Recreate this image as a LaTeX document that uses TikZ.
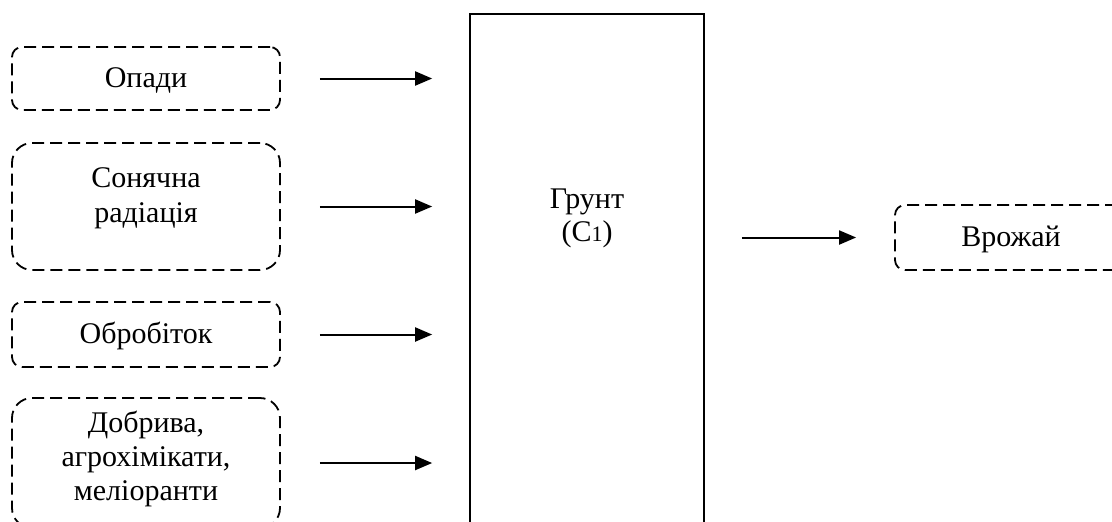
\documentclass[tikz,border=0pt]{standalone}
\usepackage{fontspec}
\setmainfont{Liberation Serif}
\usetikzlibrary{arrows.meta}
\begin{document}
\begin{tikzpicture}[x=0.5pt,y=-0.5pt,
  every node/.style={font=\fontsize{15}{17}\selectfont},
  softbox/.style={draw, line width=0.9pt, dash pattern=on 6pt off 3pt, minimum width=134pt, inner sep=0pt, align=center},
  single/.style={text height=10pt, text depth=1pt},
  txt/.style={inner sep=0pt, align=center},
  solidbox/.style={draw, line width=0.85pt, inner sep=0pt},
  flow/.style={-{Triangle[length=8.5pt,width=7pt]}, line width=1pt, shorten <=19.5pt, shorten >=18.5pt},
]
\useasboundingbox (0,0) rectangle (1112,521);
\clip (0,0) rectangle (1112,521);

\node[softbox, single, minimum height=31.5pt, rounded corners=5pt] (opady) at (146,78.5) {Опади};
\node[softbox, minimum height=63.5pt, rounded corners=10pt] (sun) at (146,206.5) {};
\node[txt, font=\fontsize{15}{17.5}\selectfont] (suntext) at (146,198) {Сонячна\\радіація};
\node[softbox, single, minimum height=32.5pt, rounded corners=5pt] (obrob) at (146,334.5) {Обробіток};
\node[softbox, minimum height=65pt, rounded corners=10pt] (dobr) at (146,463) {};
\node[txt, font=\fontsize{15}{17}\selectfont] (dobrtext) at (146,459) {Добрива,\\агрохімікати,\\меліоранти};

\node[solidbox, minimum width=117pt, minimum height=273pt] (grunt) at (587,287) {};
\node[txt, font=\fontsize{15}{16.5}\selectfont] (grunttext) at (587,218) {Грунт\\(C{\fontsize{11}{11}\selectfont 1})};

\node[softbox, single, minimum width=116pt, minimum height=32.5pt, rounded corners=5pt] (vroz) at (1011,237.5) {Врожай};

\draw[flow] (opady.east) -- (opady.east -| grunt.west);
\draw[flow] (sun.east) -- (sun.east -| grunt.west);
\draw[flow] (obrob.east) -- (obrob.east -| grunt.west);
\draw[flow] (dobr.east) -- (dobr.east -| grunt.west);
\draw[flow, shorten <=18.5pt, shorten >=19pt] (vroz.west -| grunt.east) -- (vroz.west);
\end{tikzpicture}
\end{document}
